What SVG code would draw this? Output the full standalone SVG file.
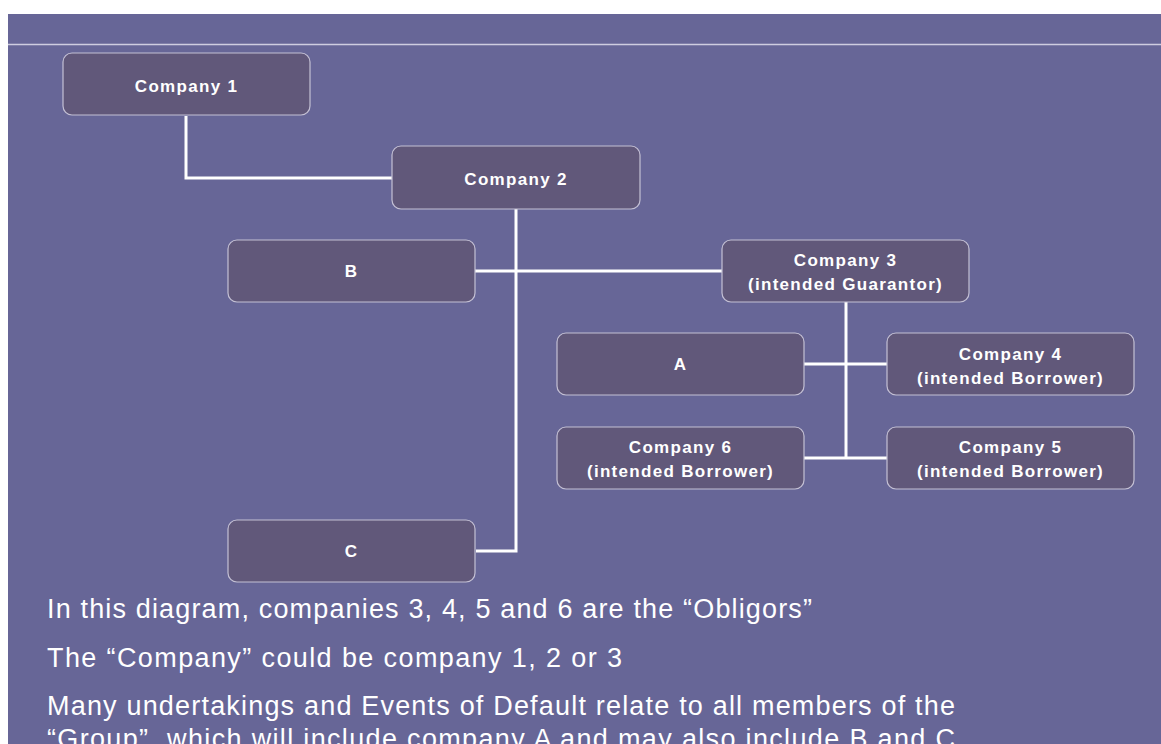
<svg xmlns="http://www.w3.org/2000/svg" width="1161" height="744" viewBox="0 0 1161 744">
<style>
.node rect{fill:#61587a;stroke:#c4c0d4;stroke-width:1.2}
.node text{font-family:"Liberation Sans",Arial,sans-serif;font-weight:bold;font-size:17px;letter-spacing:1.3px;fill:#ffffff;text-anchor:middle}
.conn{fill:none;stroke:#ffffff;stroke-width:3}
.note{font-family:"Liberation Sans",Arial,sans-serif;font-size:27px;fill:#ffffff}
</style>
<rect x="0" y="0" width="1161" height="744" fill="#ffffff"/>
<rect x="8" y="14" width="1153" height="730" fill="#676697"/>
<line x1="8" y1="44.5" x2="1161" y2="44.5" stroke="#cfcde0" stroke-width="1.5"/>
<g id="connectors" class="conn">
<polyline points="186,116 186,178 392,178"/>
<polyline points="516,209 516,551 476,551"/>
<line x1="475" y1="271" x2="722" y2="271"/>
<line x1="846" y1="302" x2="846" y2="458"/>
<line x1="804" y1="364" x2="887" y2="364"/>
<line x1="804" y1="458" x2="887" y2="458"/>
</g>
<g id="company1" class="node"><rect x="63" y="53" width="247" height="62" rx="9"/><text x="186.5" y="92">Company 1</text></g>
<g id="company2" class="node"><rect x="392" y="146" width="248" height="63" rx="9"/><text x="516" y="185">Company 2</text></g>
<g id="nodeB" class="node"><rect x="228" y="240" width="247" height="62" rx="9"/><text x="351.5" y="277">B</text></g>
<g id="company3" class="node"><rect x="722" y="240" width="247" height="62" rx="9"/><text x="845.5" y="266">Company 3</text><text x="845.5" y="290">(intended Guarantor)</text></g>
<g id="nodeA" class="node"><rect x="557" y="333" width="247" height="62" rx="9"/><text x="680.5" y="370">A</text></g>
<g id="company4" class="node"><rect x="887" y="333" width="247" height="62" rx="9"/><text x="1010.5" y="360">Company 4</text><text x="1010.5" y="384">(intended Borrower)</text></g>
<g id="company6" class="node"><rect x="557" y="427" width="247" height="62" rx="9"/><text x="680.5" y="453">Company 6</text><text x="680.5" y="477">(intended Borrower)</text></g>
<g id="company5" class="node"><rect x="887" y="427" width="247" height="62" rx="9"/><text x="1010.5" y="453">Company 5</text><text x="1010.5" y="477">(intended Borrower)</text></g>
<g id="nodeC" class="node"><rect x="228" y="520" width="247" height="62" rx="9"/><text x="351.5" y="557">C</text></g>
<g id="notes">
<text class="note" x="47" y="618" textLength="765" lengthAdjust="spacing">In this diagram, companies 3, 4, 5 and 6 are the “Obligors”</text>
<text class="note" x="47" y="667" textLength="575" lengthAdjust="spacing">The “Company” could be company 1, 2 or 3</text>
<text class="note" x="47" y="715" textLength="908" lengthAdjust="spacing">Many undertakings and Events of Default relate to all members of the</text>
<text class="note" x="47" y="748" textLength="908" lengthAdjust="spacing">“Group”, which will include company A and may also include B and C</text>
</g>
</svg>
